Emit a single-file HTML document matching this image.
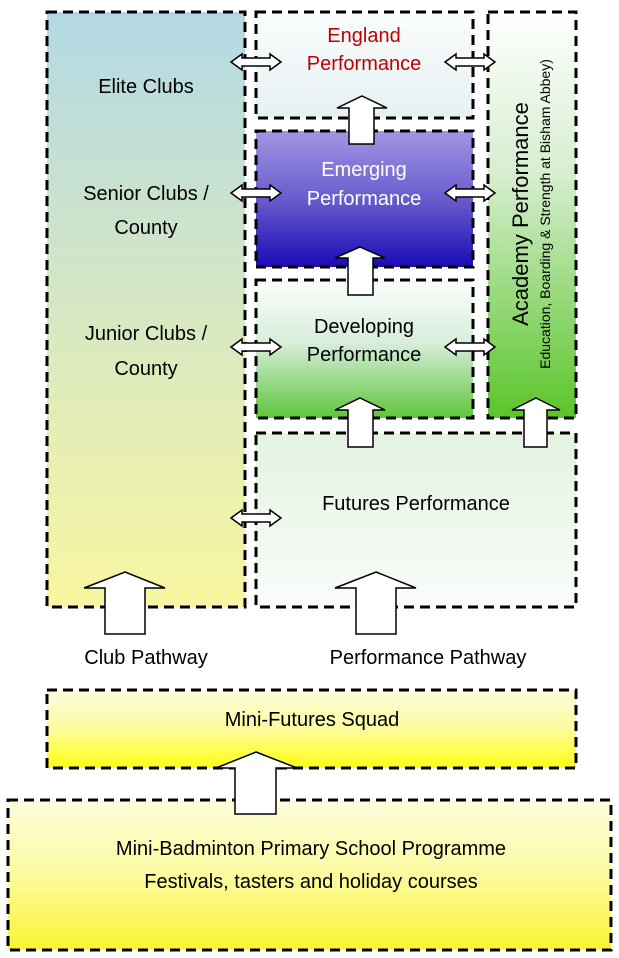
<!DOCTYPE html>
<html><head><meta charset="utf-8"><style>html,body{margin:0;padding:0;background:#fff}svg{display:block}</style></head>
<body>
<svg width="619" height="958" viewBox="0 0 619 958" xmlns="http://www.w3.org/2000/svg" font-family="Liberation Sans, sans-serif">
<defs>
<linearGradient id="gl" x1="0" y1="0" x2="0" y2="1"><stop offset="0" stop-color="#b3d9e5"/><stop offset="1" stop-color="#f9f6a0"/></linearGradient>
<linearGradient id="ge" x1="0" y1="0" x2="0" y2="1"><stop offset="0" stop-color="#fbfdfd"/><stop offset="1" stop-color="#e6f0f3"/></linearGradient>
<linearGradient id="gm" x1="0" y1="0" x2="0" y2="1"><stop offset="0" stop-color="#a096e3"/><stop offset="0.5" stop-color="#6a5ccd"/><stop offset="1" stop-color="#1a0bb5"/></linearGradient>
<linearGradient id="gd" x1="0" y1="0" x2="0" y2="1"><stop offset="0" stop-color="#fbfdfb"/><stop offset="0.45" stop-color="#d8eedc"/><stop offset="1" stop-color="#5ec53a"/></linearGradient>
<linearGradient id="ga" x1="0" y1="0" x2="0" y2="1"><stop offset="0" stop-color="#ffffff"/><stop offset="0.4" stop-color="#d6eecf"/><stop offset="1" stop-color="#5ac52a"/></linearGradient>
<linearGradient id="gf" x1="0" y1="0" x2="0" y2="1"><stop offset="0" stop-color="#e3f3e0"/><stop offset="1" stop-color="#fafcfa"/></linearGradient>
<linearGradient id="gy" x1="0" y1="0" x2="0" y2="1"><stop offset="0" stop-color="#fdfde0"/><stop offset="0.5" stop-color="#fbfb9c"/><stop offset="1" stop-color="#ffff10"/></linearGradient>
<linearGradient id="gy2" x1="0" y1="0" x2="0" y2="1"><stop offset="0" stop-color="#fdfddc"/><stop offset="0.5" stop-color="#fcfba0"/><stop offset="1" stop-color="#f9f430"/></linearGradient>
</defs>
<g stroke="#000" stroke-width="3" stroke-dasharray="10,6">
<rect x="47" y="12" width="198" height="595" fill="url(#gl)"/>
<rect x="256" y="12" width="217" height="106" fill="url(#ge)"/>
<rect x="256" y="131" width="217" height="136" fill="url(#gm)"/>
<rect x="256" y="280" width="217" height="138" fill="url(#gd)"/>
<rect x="488" y="12" width="88" height="406" fill="url(#ga)"/>
<rect x="256" y="433" width="320" height="174" fill="url(#gf)"/>
<rect x="47" y="690" width="529" height="78" fill="url(#gy)"/>
<rect x="8" y="800" width="603" height="150" fill="url(#gy2)"/>
</g>
<g fill="#fff" stroke="#000" stroke-width="1.5">
<polygon points="362,96 387,108 374,108 374,144 349,144 349,108 337,108"/>
<polygon points="360,247 385,258 373,258 373,295 348,295 348,258 335,258"/>
<polygon points="360,398 385,410 373,410 373,447 348,447 348,410 335,410"/>
<polygon points="536,398 560,410 547,410 547,447 524,447 524,410 512,410"/>
<polygon points="125,572 165,588 145,588 145,634 105,634 105,588 84,588"/>
<polygon points="376,572 416,588 396,588 396,634 356,634 356,588 335,588"/>
<polygon points="256,752 297,768 276,768 276,814 235,814 235,768 216,768"/>
</g>
<g fill="#fff" stroke="#000" stroke-width="1.5">
<polygon id="da" points="231,62 242,54 242,58 270,58 270,54 281,62 270,70 270,66 242,66 242,70"/>
<use href="#da" y="131"/><use href="#da" y="285"/><use href="#da" y="456"/>
<use href="#da" x="214"/><use href="#da" x="214" y="131"/><use href="#da" x="214" y="285"/>
</g>
<g font-size="20" text-anchor="middle" fill="#000">
<text x="146" y="93">Elite Clubs</text>
<text x="146" y="200">Senior Clubs /</text>
<text x="146" y="234">County</text>
<text x="146" y="340">Junior Clubs /</text>
<text x="146" y="375">County</text>
<text x="364" y="42" fill="#c00000">England</text>
<text x="364" y="70" fill="#c00000">Performance</text>
<text x="364" y="176" fill="#fff">Emerging</text>
<text x="364" y="205" fill="#fff">Performance</text>
<text x="364" y="333">Developing</text>
<text x="364" y="361">Performance</text>
<text x="416" y="510">Futures Performance</text>
<text x="146" y="664">Club Pathway</text>
<text x="428" y="664">Performance Pathway</text>
<text x="312" y="726">Mini-Futures Squad</text>
<text x="311" y="855">Mini-Badminton Primary School Programme</text>
<text x="311" y="888">Festivals, tasters and holiday courses</text>
<text transform="translate(528,214) rotate(-90)" font-size="22">Academy Performance</text>
<text transform="translate(550,214) rotate(-90)" font-size="14">Education, Boarding &amp; Strength at Bisham Abbey)</text>
</g>
</svg>
</body></html>
